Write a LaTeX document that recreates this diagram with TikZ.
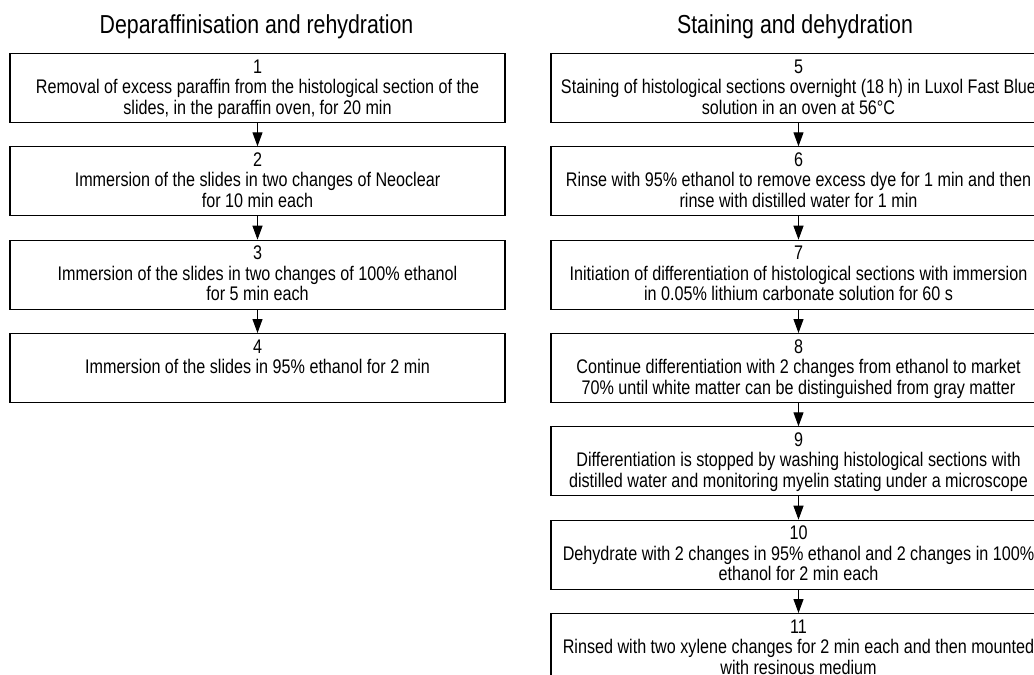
\documentclass[tikz,border=0pt]{standalone}
\usepackage{fontspec}
\setmainfont[FakeStretch=0.82]{Liberation Sans}
\usetikzlibrary{arrows.meta}

\tikzset{
  stepbox/.style={draw, line width=1.1pt, minimum width=495pt, minimum height=69pt, inner sep=0pt, anchor=north},
  heading/.style={anchor=base, font=\fontsize{26}{30}\selectfont},
  flow/.style={line width=1.1pt, -{Triangle[length=14pt,width=10pt]}},
}
\newcommand{\steptext}[2]{\parbox[c][60pt][t]{495pt}{\centering\fontsize{19.7}{20.5}\selectfont\rule{0pt}{15pt}#1\\#2}}

\begin{document}
\begin{tikzpicture}[x=1pt,y=1pt]
		\useasboundingbox (0,0) rectangle (1034,-675);
		\clip (0,0) rectangle (1034,-675);
		% left column
		\node[heading] (tleft) at (256.5,-33) {Deparaffinisation and rehydration};
		\node[stepbox] (s1) at (257.5,-53) {\steptext{1}{Removal of excess paraffin from the histological section of the\\slides, in the paraffin oven, for 20 min}};
		\node[stepbox] (s2) at (257.5,-146.3) {\steptext{2}{Immersion of the slides in two changes of Neoclear\\for 10 min each}};
		\node[stepbox] (s3) at (257.5,-239.7) {\steptext{3}{Immersion of the slides in two changes of 100\% ethanol\\for 5 min each}};
		\node[stepbox] (s4) at (257.5,-333) {\steptext{4}{Immersion of the slides in 95\% ethanol for 2 min}};
		\draw[flow] (s1) -- (s2);
		\draw[flow] (s2) -- (s3);
		\draw[flow] (s3) -- (s4);
		% right column
		\node[heading] (tright) at (795,-33) {Staining and dehydration};
		\node[stepbox] (s5) at (798.5,-53) {\steptext{5}{Staining of histological sections overnight (18 h) in Luxol Fast Blue\\solution in an oven at 56°C}};
		\node[stepbox] (s6) at (798.5,-146.3) {\steptext{6}{Rinse with 95\% ethanol to remove excess dye for 1 min and then\\rinse with distilled water for 1 min}};
		\node[stepbox] (s7) at (798.5,-239.7) {\steptext{7}{Initiation of differentiation of histological sections with immersion\\in 0.05\% lithium carbonate solution for 60 s}};
		\node[stepbox] (s8) at (798.5,-333) {\steptext{8}{Continue differentiation with 2 changes from ethanol to market\\70\% until white matter can be distinguished from gray matter}};
		\node[stepbox] (s9) at (798.5,-426.3) {\steptext{9}{Differentiation is stopped by washing histological sections with\\distilled water and monitoring myelin stating under a microscope}};
		\node[stepbox] (s10) at (798.5,-519.7) {\steptext{10}{Dehydrate with 2 changes in 95\% ethanol and 2 changes in 100\%\\ethanol for 2 min each}};
		\node[stepbox] (s11) at (798.5,-613) {\steptext{11}{Rinsed with two xylene changes for 2 min each and then mounted\\with resinous medium}};
		\draw[flow] (s5) -- (s6);
		\draw[flow] (s6) -- (s7);
		\draw[flow] (s7) -- (s8);
		\draw[flow] (s8) -- (s9);
		\draw[flow] (s9) -- (s10);
		\draw[flow] (s10) -- (s11);
	\end{tikzpicture}
\end{document}
